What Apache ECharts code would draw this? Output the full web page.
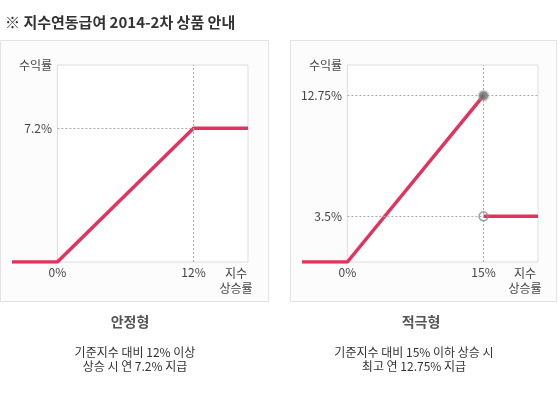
<!DOCTYPE html>
<html>
<head>
<meta charset="utf-8">
<script src="https://cdn.jsdelivr.net/npm/echarts@6/dist/echarts.min.js"></script>
<style>
html,body{margin:0;padding:0;background:#fff;}
#c{width:560px;height:393px;}
</style>
</head>
<body>
<div id="c"></div>
<script>
// ---- data ----
var mainTitle = '※ 지수연동급여 2014-2차 상품 안내';
var yName = '수익률';
var xName = '지수\n상승률';

// 안정형 (stable)
var stableName = '안정형';
var stableDesc = '기준지수 대비 12% 이상\n상승 시 연 7.2% 지급';
var stableX = [-4, 0, 12, 16.8];
var stableY = [0, 0, 7.2, 7.2];
var stableXTicks = [0, 12];
var stableYTicks = [7.2];

// 적극형 (aggressive)
var aggrName = '적극형';
var aggrDesc = '기준지수 대비 15% 이하 상승 시\n최고 연 12.75% 지급';
var aggrX = [-5, 0, 15];
var aggrY = [0, 0, 12.75];
var aggrAfterX = [15, 21];
var aggrAfterY = [3.5, 3.5];
var aggrXTicks = [0, 15];
var aggrYTicks = [3.5, 12.75];

function pairs(xs, ys){ return xs.map(function(x,i){ return [x, ys[i]]; }); }

var RED = '#e2335f';
var FONT = '"Noto Sans CJK KR", "Noto Sans", sans-serif';
var dash = {type:[2,2], color:'#aaa', width:1};

var stableXMin = stableX[0], stableXMax = stableX[stableX.length-1], stableYMax = 10.6;
var aggrXMin = aggrX[0], aggrXMax = aggrAfterX[aggrAfterX.length-1], aggrYMax = 15.1;

function xAxisCfg(idx, min, max, ticks, gap){
  return {
    type:'value', gridIndex:idx, min:min, max:max,
    axisLine:{show:false}, axisTick:{show:false}, splitLine:{show:false},
    axisLabel:{customValues:ticks, margin:4, fontSize:12, color:'#444', fontFamily:FONT,
      formatter:function(v){ return ticks.indexOf(v) >= 0 ? v + '%' : ''; }},
    name:xName, nameLocation:'end', nameGap:gap,
    nameTextStyle:{align:'center', verticalAlign:'top', lineHeight:15, padding:[4,0,0,0],
      fontSize:12, color:'#444', fontFamily:FONT}
  };
}
function yAxisCfg(idx, max, ticks){
  return {
    type:'value', gridIndex:idx, min:0, max:max, offset:-45,
    axisLine:{show:false, onZero:false}, axisTick:{show:false}, splitLine:{show:false},
    axisLabel:{customValues:ticks, margin:5, fontSize:12, color:'#444', fontFamily:FONT,
      formatter:function(v){ return ticks.indexOf(v) >= 0 ? v + '%' : ''; }},
    name:yName, nameLocation:'end', nameGap:0,
    nameTextStyle:{align:'right', verticalAlign:'middle', padding:[0,5,0,0],
      fontSize:12, color:'#444', fontFamily:FONT}
  };
}
function plotBox(xi, xmax, ymax){
  return {type:'line', xAxisIndex:xi, yAxisIndex:xi, data:[], z:0, silent:true,
    markArea:{silent:true, label:{show:false},
      itemStyle:{color:'#fff', borderColor:'#ddd', borderWidth:1},
      data:[[{coord:[0,0]},{coord:[xmax,ymax]}]]}};
}

var chart = echarts.init(document.getElementById('c'), null, {renderer:'canvas'});
chart.setOption({
  backgroundColor:'#fff',
  animation:false,
  title:{text:mainTitle, left:0, top:10,
    textStyle:{fontSize:15, fontWeight:'bold', color:'#333', fontFamily:FONT}},
  graphic:[
    {type:'rect', z:-10, shape:{x:0.5, y:40.5, width:268, height:261},
      style:{fill:'#fcfcfc', stroke:'#e3e3e3', lineWidth:1}},
    {type:'rect', z:-10, shape:{x:290.5, y:40.5, width:266, height:261},
      style:{fill:'#fcfcfc', stroke:'#e3e3e3', lineWidth:1}},
    {type:'text', x:130, y:322, style:{text:stableName, align:'center', verticalAlign:'middle',
      font:'bold 14px ' + FONT, fill:'#555'}},
    {type:'text', x:421, y:322, style:{text:aggrName, align:'center', verticalAlign:'middle',
      font:'bold 14px ' + FONT, fill:'#555'}},
    {type:'text', x:135, y:359, style:{text:stableDesc, align:'center', verticalAlign:'middle',
      font:'12px ' + FONT, fill:'#333', lineHeight:14}},
    {type:'text', x:414, y:359, style:{text:aggrDesc, align:'center', verticalAlign:'middle',
      font:'12px ' + FONT, fill:'#333', lineHeight:14}}
  ],
  grid:[
    {left:12, top:65, width:236, height:197, show:false, outerBoundsMode:'none', containLabel:false},
    {left:302, top:65, width:236, height:197, show:false, outerBoundsMode:'none', containLabel:false}
  ],
  xAxis:[ xAxisCfg(0, stableXMin, stableXMax, stableXTicks, -12),
          xAxisCfg(1, aggrXMin, aggrXMax, aggrXTicks, -13) ],
  yAxis:[ yAxisCfg(0, stableYMax, stableYTicks), yAxisCfg(1, aggrYMax, aggrYTicks) ],
  series:[
    plotBox(0, stableXMax, stableYMax),
    plotBox(1, aggrXMax, aggrYMax),
    // guide lines
    {type:'line', xAxisIndex:0, yAxisIndex:0, data:[], z:1, silent:true,
      markLine:{silent:true, symbol:['none','none'], label:{show:false}, lineStyle:dash,
        data:[ [{coord:[stableXTicks[1], 0]}, {coord:[stableXTicks[1], stableYMax]}],
               [{coord:[0, stableYTicks[0]]}, {coord:[stableXTicks[1], stableYTicks[0]]}] ]}},
    {type:'line', xAxisIndex:1, yAxisIndex:1, data:[], z:1, silent:true,
      markLine:{silent:true, symbol:['none','none'], label:{show:false}, lineStyle:dash,
        data:[ [{coord:[aggrXTicks[1], 0]}, {coord:[aggrXTicks[1], aggrYMax]}],
               [{coord:[0, aggrYTicks[1]]}, {coord:[aggrXMax, aggrYTicks[1]]}],
               [{coord:[0, aggrYTicks[0]]}, {coord:[aggrXTicks[1], aggrYTicks[0]]}] ]}},
    // payoff lines
    {type:'line', xAxisIndex:0, yAxisIndex:0, z:3, showSymbol:false,
      data:pairs(stableX, stableY), lineStyle:{color:RED, width:3.5}},
    {type:'line', xAxisIndex:1, yAxisIndex:1, z:3, showSymbol:false,
      data:pairs(aggrX, aggrY), lineStyle:{color:RED, width:3.5}},
    {type:'line', xAxisIndex:1, yAxisIndex:1, z:3, showSymbol:false,
      data:pairs(aggrAfterX, aggrAfterY), lineStyle:{color:RED, width:3.5}},
    // end points
    {type:'scatter', xAxisIndex:1, yAxisIndex:1, z:5, symbolSize:9,
      data:[[aggrX[aggrX.length-1], aggrY[aggrY.length-1]]],
      itemStyle:{color:'#666', borderColor:'rgba(150,150,150,0.55)', borderWidth:3}},
    {type:'scatter', xAxisIndex:1, yAxisIndex:1, z:5, symbolSize:9,
      data:[[aggrAfterX[0], aggrAfterY[0]]],
      itemStyle:{color:'rgba(0,0,0,0)', borderColor:'#888', borderWidth:1.5}}
  ]
});
</script>
</body>
</html>
